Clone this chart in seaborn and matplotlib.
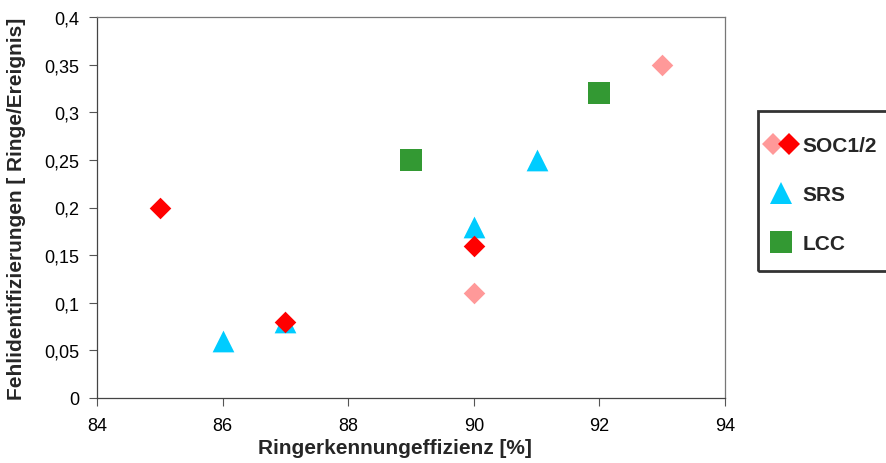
import matplotlib
matplotlib.use("Agg")
import matplotlib.pyplot as plt
import seaborn as sns
from matplotlib.lines import Line2D
from matplotlib.patches import Rectangle
from matplotlib.legend_handler import HandlerTuple
from matplotlib.ticker import FuncFormatter

# Data
soc1_x = [90, 93]
soc1_y = [0.11, 0.35]
soc2_x = [85, 87, 90]
soc2_y = [0.20, 0.08, 0.16]
srs_x = [86, 87, 90, 91]
srs_y = [0.06, 0.08, 0.18, 0.25]
lcc_x = [89, 92]
lcc_y = [0.25, 0.32]

x_ticks = [84, 86, 88, 90, 92, 94]
y_ticks = [0, 0.05, 0.1, 0.15, 0.2, 0.25, 0.3, 0.35, 0.4]
legend_labels = ["SOC1/2", "SRS", "LCC"]

sns.set_style("white")
plt.rcParams['font.family'] = ['Liberation Sans', 'DejaVu Sans']

W, H = 887, 464
fig = plt.figure(figsize=(8.87, 4.64), dpi=100)
ax = fig.add_axes([97/W, 1-399/H, (725-97)/W, (399-18)/H])

PINK = "#FF9999"
RED = "#FF0000"
CYAN = "#00CCFF"
GREEN = "#339933"

sns.scatterplot(x=lcc_x, y=lcc_y, ax=ax, marker="s", s=250, color=GREEN, linewidth=0, zorder=3)
sns.scatterplot(x=srs_x, y=srs_y, ax=ax, marker="^", s=245, color=CYAN, linewidth=0, zorder=3)
sns.scatterplot(x=soc1_x, y=soc1_y, ax=ax, marker="D", s=121, color=PINK, linewidth=0, zorder=4)
sns.scatterplot(x=soc2_x, y=soc2_y, ax=ax, marker="D", s=121, color=RED, linewidth=0, zorder=4)

ax.set_xlim(84, 94)
ax.set_ylim(0, 0.4)
ax.set_xticks(x_ticks)
ax.set_yticks(y_ticks)

def comma_fmt(v, pos):
    s = f"{v:.2f}".rstrip("0").rstrip(".")
    return s.replace(".", ",")

ax.yaxis.set_major_formatter(FuncFormatter(comma_fmt))
ax.xaxis.set_major_formatter(FuncFormatter(lambda v, p: f"{int(round(v))}"))

ax.tick_params(axis="both", direction="out", length=6, width=0.8, color="#555555",
               labelsize=13, labelcolor="black", left=True, bottom=True)
ax.tick_params(axis="x", pad=8)
ax.tick_params(axis="y", pad=7)
for sp in ax.spines.values():
    sp.set_color("#777777")
    sp.set_linewidth(0.9)
ax.spines["left"].set_color("#444444")
ax.spines["bottom"].set_color("#444444")

ax.set_xlabel("Ringerkennungeffizienz [%]", fontsize=15, fontweight="bold")
ax.xaxis.set_label_coords((395-97)/628, -0.105)
ax.set_ylabel("Fehlidentifizierungen [ Ringe/Ereignis]", fontsize=15, fontweight="bold", labelpad=13)

# legend frame (cut off at the right edge like the reference)
fig.patches.append(Rectangle((758/W, 1-272/H), 0.3, (272-112)/H, transform=fig.transFigure,
                             fill=False, edgecolor="#333333", linewidth=2.0, zorder=5))

h_pink = Line2D([], [], marker="D", linestyle="none", markersize=11, color=PINK, markeredgewidth=0)
h_red = Line2D([], [], marker="D", linestyle="none", markersize=11, color=RED, markeredgewidth=0)
h_srs = Line2D([], [], marker="^", linestyle="none", markersize=15.6, color=CYAN, markeredgewidth=0)
h_lcc = Line2D([], [], marker="s", linestyle="none", markersize=15.8, color=GREEN, markeredgewidth=0)

leg = fig.legend([(h_pink, h_red), h_srs, h_lcc], legend_labels,
                 handler_map={tuple: HandlerTuple(ndivide=None, pad=0.19)},
                 loc="upper left", bbox_to_anchor=(767/W, 1-137/H),
                 frameon=False, prop={"weight": "bold", "size": 15}, labelspacing=1.45,
                 borderpad=0, handlelength=1.35, handletextpad=0.34, borderaxespad=0)

fig.savefig("out.png", dpi=100)
